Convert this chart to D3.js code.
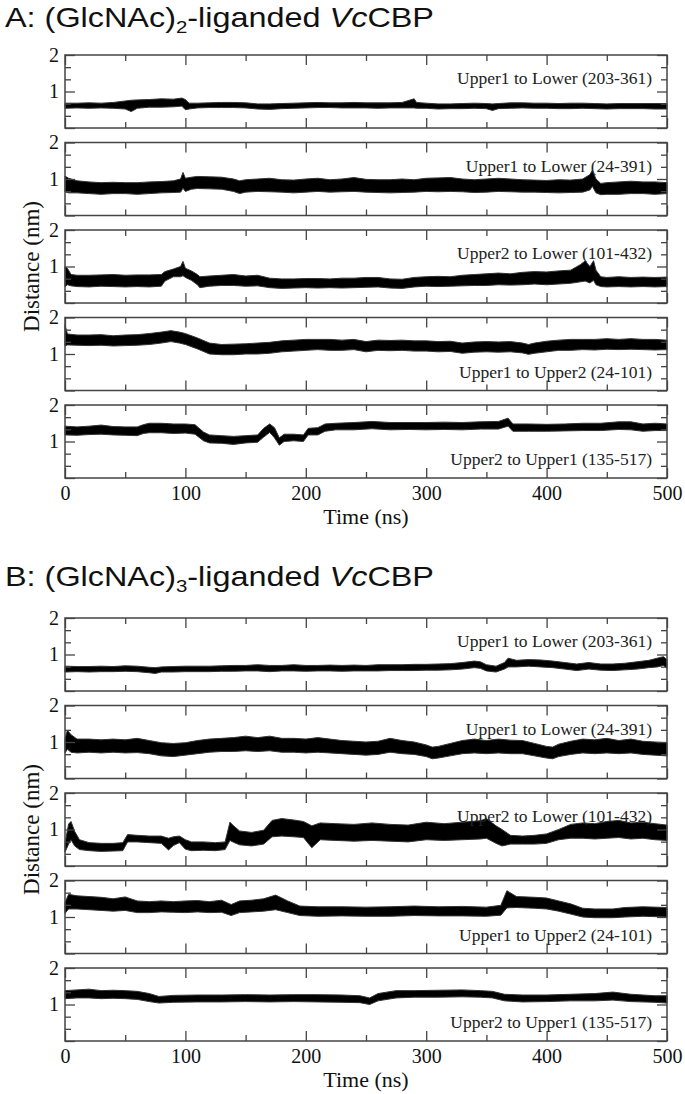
<!DOCTYPE html>
<html>
<head>
<meta charset="utf-8">
<script src="https://cdn.jsdelivr.net/npm/d3@7"></script>
<style>
  body { margin: 0; background: #fff; }
  svg { display: block; }
</style>
</head>
<body>
<svg width="685" height="1094"></svg>
<script>
// tick values / labels
var xTicks = [0, 100, 200, 300, 400, 500];
var xMinor = [50, 150, 250, 350, 450];
var yTicks = [0, 1, 2];
var yMinor = [1/3, 2/3, 4/3, 5/3];

var panelNames = ['Upper1 to Lower (203-361)', 'Upper1 to Lower (24-391)', 'Upper2 to Lower (101-432)',
                  'Upper1 to Upper2 (24-101)', 'Upper2 to Upper1 (135-517)'];

// each row: [time ns, lower edge nm, upper edge nm] of the trace band
var a1 = [[0,.54,.68],[10,.55,.68],[20,.54,.69],[30,.55,.68],[40,.54,.70],[50,.52,.74],[55,.45,.76],[60,.54,.77],[70,.57,.78],[80,.57,.80],[90,.58,.79],[97,.60,.82],[100,.50,.78],[103,.52,.68],[110,.55,.68],[120,.56,.69],[130,.56,.70],[140,.56,.70],[150,.55,.69],[160,.52,.66],[170,.51,.66],[180,.53,.67],[190,.54,.68],[200,.55,.69],[210,.56,.70],[220,.56,.69],[230,.55,.69],[240,.55,.70],[250,.55,.69],[260,.54,.69],[270,.55,.69],[280,.55,.70],[290,.55,.80],[292,.54,.70],[300,.54,.68],[310,.52,.66],[320,.53,.66],[330,.53,.67],[340,.54,.68],[350,.53,.67],[355,.48,.66],[360,.53,.67],[370,.54,.69],[380,.55,.69],[390,.54,.68],[400,.54,.68],[410,.53,.67],[420,.53,.68],[430,.54,.68],[440,.53,.67],[450,.52,.66],[460,.53,.67],[470,.53,.67],[480,.53,.67],[490,.52,.67],[500,.52,.67]];
var a2 = [[0,.65,1.08],[3,.62,1.02],[10,.62,.95],[20,.60,.92],[30,.58,.90],[40,.60,.91],[50,.60,.90],[60,.58,.90],[70,.60,.92],[80,.62,.93],[90,.63,.95],[96,.64,1.0],[98,.75,1.18],[100,.66,1.02],[105,.72,1.05],[110,.74,1.07],[120,.73,1.06],[130,.72,1.05],[140,.66,1.0],[145,.60,.95],[150,.64,.98],[160,.66,1.0],[170,.65,1.02],[180,.64,.98],[190,.62,.97],[200,.64,1.0],[210,.66,1.02],[220,.64,.98],[230,.65,1.0],[240,.66,1.04],[250,.64,.99],[260,.63,.98],[270,.62,.98],[280,.63,1.0],[290,.64,.98],[300,.66,1.02],[310,.65,1.03],[320,.66,1.04],[330,.65,1.0],[340,.63,.98],[350,.64,1.0],[360,.66,1.02],[370,.65,1.0],[380,.64,.98],[390,.64,.97],[400,.63,.96],[410,.62,.98],[420,.63,.97],[430,.64,1.0],[436,.7,1.12],[438,.8,1.24],[441,.62,1.0],[445,.57,.88],[450,.58,.9],[460,.58,.92],[470,.6,.94],[480,.6,.92],[490,.58,.92],[500,.6,.9]];
var a3 = [[0,.45,1.0],[2,.5,.95],[5,.47,.78],[10,.45,.76],[20,.44,.76],[30,.46,.77],[40,.45,.78],[50,.44,.76],[60,.45,.77],[70,.44,.77],[80,.46,.78],[83,.6,.86],[90,.72,.93],[96,.72,1.0],[98,.75,1.14],[100,.7,.95],[105,.62,.88],[110,.5,.78],[112,.42,.72],[120,.46,.74],[130,.48,.76],[140,.48,.78],[150,.46,.74],[160,.47,.76],[170,.42,.68],[180,.4,.66],[190,.41,.66],[200,.42,.67],[210,.41,.67],[220,.42,.66],[230,.41,.68],[240,.42,.68],[250,.43,.70],[260,.44,.70],[270,.41,.66],[280,.40,.65],[290,.44,.70],[300,.46,.72],[310,.45,.73],[320,.46,.72],[330,.47,.76],[340,.48,.78],[350,.48,.8],[360,.5,.82],[370,.49,.8],[380,.5,.84],[390,.52,.86],[400,.5,.85],[410,.52,.88],[420,.54,.9],[428,.58,1.05],[432,.6,1.15],[436,.55,1.0],[439,.62,1.16],[441,.5,.9],[445,.45,.72],[450,.44,.7],[460,.45,.72],[470,.44,.70],[480,.45,.71],[490,.44,.70],[500,.45,.71]];
var a4 = [[0,1.22,1.8],[2,1.25,1.55],[10,1.24,1.52],[20,1.23,1.52],[30,1.24,1.53],[40,1.22,1.5],[50,1.23,1.52],[60,1.24,1.53],[70,1.26,1.56],[80,1.3,1.6],[88,1.34,1.64],[95,1.3,1.6],[100,1.26,1.56],[110,1.14,1.44],[120,1.0,1.3],[130,.98,1.26],[140,.98,1.27],[150,1.0,1.28],[160,1.0,1.3],[170,1.02,1.32],[180,1.06,1.36],[190,1.08,1.38],[200,1.1,1.4],[210,1.12,1.4],[220,1.1,1.4],[230,1.1,1.38],[240,1.12,1.4],[250,1.06,1.34],[260,1.1,1.38],[270,1.09,1.37],[280,1.1,1.38],[290,1.08,1.36],[300,1.08,1.36],[310,1.06,1.34],[320,1.07,1.35],[330,1.02,1.3],[340,1.05,1.33],[350,1.06,1.34],[360,1.05,1.33],[370,1.06,1.34],[380,1.03,1.3],[385,.99,1.26],[390,1.02,1.3],[400,1.06,1.35],[410,1.1,1.38],[420,1.1,1.4],[430,1.12,1.4],[440,1.11,1.4],[450,1.13,1.42],[460,1.12,1.4],[470,1.13,1.42],[480,1.12,1.4],[490,1.11,1.4],[500,1.12,1.38]];
var a5 = [[0,1.18,1.42],[10,1.17,1.4],[20,1.19,1.42],[30,1.2,1.45],[40,1.18,1.41],[50,1.17,1.4],[60,1.16,1.4],[65,1.22,1.46],[70,1.24,1.5],[80,1.24,1.5],[90,1.22,1.48],[100,1.23,1.48],[108,1.2,1.46],[115,1.02,1.26],[120,.96,1.18],[130,.95,1.16],[140,.92,1.14],[150,.96,1.16],[160,.98,1.18],[165,1.12,1.36],[170,1.25,1.48],[174,1.1,1.38],[178,.9,1.1],[182,1.0,1.2],[190,1.02,1.2],[198,1.0,1.18],[202,1.18,1.36],[210,1.18,1.38],[216,1.28,1.48],[225,1.32,1.5],[240,1.32,1.52],[255,1.35,1.55],[270,1.32,1.52],[285,1.33,1.52],[300,1.32,1.52],[315,1.33,1.53],[330,1.32,1.52],[345,1.34,1.54],[360,1.34,1.55],[368,1.42,1.64],[372,1.28,1.48],[385,1.28,1.48],[400,1.28,1.47],[415,1.29,1.48],[430,1.3,1.5],[445,1.3,1.5],[460,1.33,1.54],[470,1.32,1.54],[480,1.28,1.48],[490,1.3,1.5],[500,1.3,1.48]];

var b1 = [[0,.52,.68],[10,.53,.67],[20,.52,.67],[30,.53,.68],[40,.53,.67],[50,.54,.69],[60,.53,.68],[70,.5,.65],[75,.48,.64],[80,.52,.66],[90,.52,.67],[100,.53,.68],[110,.53,.68],[120,.53,.68],[130,.54,.69],[140,.54,.7],[150,.55,.7],[160,.55,.72],[170,.53,.7],[180,.55,.7],[190,.55,.72],[200,.54,.7],[210,.55,.7],[220,.55,.71],[230,.54,.7],[240,.55,.71],[250,.55,.7],[260,.55,.72],[270,.56,.72],[280,.56,.72],[290,.56,.73],[300,.57,.73],[310,.57,.74],[320,.58,.75],[330,.6,.78],[340,.64,.82],[345,.62,.8],[350,.55,.72],[358,.52,.68],[365,.6,.78],[368,.66,.9],[375,.66,.84],[385,.68,.86],[395,.66,.85],[405,.64,.82],[415,.6,.78],[425,.56,.74],[435,.6,.78],[445,.57,.74],[455,.56,.74],[465,.58,.76],[475,.6,.8],[485,.64,.84],[492,.66,.9],[497,.7,.94],[500,.62,.86]];
var b2 = [[0,.7,1.1],[2,.8,1.32],[5,.72,1.2],[10,.7,1.08],[20,.72,1.08],[30,.7,1.06],[40,.72,1.08],[50,.7,1.06],[60,.71,1.1],[70,.68,1.04],[80,.62,.98],[90,.6,.96],[100,.64,.98],[110,.68,1.04],[120,.72,1.08],[130,.74,1.1],[140,.74,1.12],[150,.76,1.16],[160,.74,1.12],[170,.76,1.16],[180,.72,1.1],[190,.72,1.1],[200,.7,1.08],[210,.72,1.12],[220,.7,1.08],[230,.68,1.04],[240,.66,1.02],[250,.64,1.0],[260,.66,1.02],[270,.72,1.1],[280,.68,1.04],[290,.66,1.0],[300,.6,.92],[305,.54,.86],[310,.56,.88],[320,.62,.96],[330,.68,1.04],[340,.7,1.08],[350,.68,1.04],[360,.7,1.08],[370,.68,1.05],[380,.68,1.04],[390,.62,.96],[400,.56,.88],[405,.54,.86],[410,.6,.94],[420,.66,1.02],[430,.7,1.08],[440,.68,1.06],[450,.7,1.1],[460,.68,1.04],[470,.7,1.08],[480,.66,1.02],[490,.64,1.0],[500,.62,.98]];
var b3 = [[0,.38,.62],[3,.6,1.15],[5,.72,1.22],[8,.55,.95],[12,.45,.72],[20,.42,.64],[30,.4,.62],[40,.41,.62],[48,.42,.64],[52,.66,.86],[60,.66,.84],[70,.64,.82],[80,.62,.82],[86,.44,.76],[90,.56,.8],[95,.64,.82],[100,.46,.72],[105,.42,.66],[115,.43,.66],[125,.42,.64],[133,.45,.66],[137,.7,1.2],[140,.65,1.1],[145,.58,.96],[155,.55,.92],[165,.6,.98],[172,.8,1.25],[180,.82,1.3],[190,.8,1.26],[198,.78,1.22],[205,.5,1.1],[212,.72,1.18],[225,.7,1.16],[240,.68,1.14],[255,.7,1.18],[270,.68,1.14],[285,.66,1.12],[300,.72,1.2],[315,.7,1.16],[330,.72,1.2],[345,.74,1.24],[350,.76,1.3],[358,.62,1.1],[363,.55,1.0],[370,.6,.84],[380,.6,.82],[390,.6,.84],[400,.62,.88],[410,.72,1.0],[420,.76,1.14],[430,.76,1.18],[440,.74,1.16],[450,.76,1.22],[460,.78,1.25],[470,.74,1.18],[480,.76,1.2],[490,.72,1.16],[500,.7,1.12]];
var b4 = [[0,1.1,1.4],[3,1.22,1.62],[10,1.22,1.58],[20,1.2,1.56],[30,1.18,1.54],[40,1.16,1.5],[50,1.18,1.55],[60,1.12,1.44],[70,1.12,1.42],[80,1.14,1.44],[90,1.13,1.42],[100,1.12,1.44],[110,1.14,1.45],[120,1.12,1.42],[130,1.13,1.46],[138,1.04,1.34],[145,1.12,1.44],[155,1.14,1.46],[165,1.16,1.5],[175,1.2,1.6],[185,1.12,1.44],[195,1.04,1.3],[210,1.02,1.28],[230,1.03,1.28],[250,1.02,1.27],[270,1.02,1.28],[290,1.04,1.3],[310,1.03,1.28],[330,1.03,1.29],[350,1.02,1.27],[362,1.05,1.32],[367,1.25,1.72],[375,1.26,1.56],[390,1.24,1.54],[400,1.22,1.52],[410,1.16,1.44],[420,1.08,1.36],[430,1.0,1.24],[440,.98,1.22],[455,.98,1.22],[465,1.0,1.26],[480,1.02,1.28],[500,1.0,1.26]];
var b5 = [[0,1.16,1.38],[10,1.18,1.4],[20,1.18,1.42],[30,1.16,1.38],[40,1.17,1.39],[50,1.16,1.38],[60,1.14,1.36],[70,1.08,1.3],[78,1.04,1.22],[90,1.06,1.25],[110,1.07,1.26],[130,1.07,1.26],[150,1.08,1.27],[170,1.07,1.26],[190,1.08,1.27],[210,1.07,1.27],[230,1.06,1.26],[245,1.05,1.24],[253,1.0,1.18],[260,1.1,1.3],[275,1.18,1.38],[290,1.2,1.38],[310,1.2,1.39],[330,1.21,1.4],[345,1.2,1.38],[355,1.18,1.36],[365,1.1,1.28],[380,1.07,1.26],[400,1.08,1.26],[420,1.1,1.28],[440,1.1,1.3],[455,1.12,1.34],[470,1.08,1.28],[490,1.06,1.24],[500,1.04,1.24]];

var svg = d3.select('svg');
var left = 65, right = 667;
var panelH = 73, panelStep = 87.5;
var frameColor = '#444';
var serif = "'Liberation Serif', 'Times New Roman', serif";

var xScale = d3.scaleLinear().domain([0, 500]).range([left, right]);

function drawGroup(top, titleY, letter, sub, series) {
    var g = svg.append('g');

    // title (the source lettering is wider than plain Arial)
    var title = g.append('text')
        .attr('transform', 'translate(' + [5, titleY] + ')scale(1.2,1)')
        .style('font-family', "'Liberation Sans', Arial, sans-serif")
        .style('font-size', '27px')
        .attr('fill', '#111');
    title.append('tspan').text(letter + ': (GlcNAc)');
    title.append('tspan').attr('dy', 6).style('font-size', '17px').text(sub);
    title.append('tspan').attr('dy', -6).text('-liganded ');
    title.append('tspan').style('font-style', 'italic').text('Vc');
    title.append('tspan').text('CBP');

    series.forEach(function(data, i) {
        var py = top + i * panelStep;
        var yScale = d3.scaleLinear().domain([0, 2]).range([py + panelH, py]);
        var pg = g.append('g');

        var area = d3.area()
            .x(function(d) { return xScale(d[0]); })
            .y0(function(d) { return yScale(d[1]); })
            .y1(function(d) { return yScale(d[2]); });
        pg.append('path')
            .datum(data)
            .attr('d', area)
            .attr('fill', '#000')
            .attr('stroke', '#333')
            .attr('stroke-width', 1)
            .attr('stroke-linejoin', 'round');

        // ticks, all pointing inwards
        var axes = [
            {ax: d3.axisLeft(yScale).tickValues(yTicks).tickSize(-10).tickPadding(6)
                .tickFormat(function(d) { return d === 0 ? '' : d; }), t: [left, 0]},
            {ax: d3.axisLeft(yScale).tickValues(yMinor).tickSize(-6).tickFormat(''), t: [left, 0]},
            {ax: d3.axisRight(yScale).tickValues(yTicks).tickSize(-10).tickFormat(''), t: [right, 0]},
            {ax: d3.axisRight(yScale).tickValues(yMinor).tickSize(-6).tickFormat(''), t: [right, 0]},
            {ax: d3.axisTop(xScale).tickValues(xTicks).tickSize(-10).tickFormat(''), t: [0, py]},
            {ax: d3.axisTop(xScale).tickValues(xMinor).tickSize(-6).tickFormat(''), t: [0, py]},
            {ax: d3.axisBottom(xScale).tickValues(xTicks).tickSize(-10).tickPadding(8)
                .tickFormat(i === 4 ? function(d) { return d; } : ''), t: [0, py + panelH]},
            {ax: d3.axisBottom(xScale).tickValues(xMinor).tickSize(-6).tickFormat(''), t: [0, py + panelH]}
        ];
        axes.forEach(function(a) {
            var ag = pg.append('g')
                .attr('transform', 'translate(' + a.t + ')')
                .call(a.ax);
            ag.select('.domain').remove();
            ag.selectAll('line').attr('stroke', frameColor).attr('stroke-width', 1.3);
            ag.selectAll('text')
                .style('font-family', serif)
                .style('font-size', '20px')
                .attr('fill', '#111');
        });

        pg.append('rect')
            .attr('x', left).attr('y', py)
            .attr('width', right - left).attr('height', panelH)
            .attr('fill', 'none')
            .attr('stroke', frameColor)
            .attr('stroke-width', 1.5);

        var atTop = i < 3;
        pg.append('text')
            .attr('x', right - 15)
            .attr('y', atTop ? py + 29 : py + panelH - 13)
            .attr('text-anchor', 'end')
            .style('font-family', serif)
            .style('font-size', '17.5px')
            .attr('fill', '#222')
            .text(panelNames[i]);
    });

    var bottom = top + 4 * panelStep + panelH;
    g.append('text')
        .attr('x', (left + right) / 2)
        .attr('y', bottom + 46)
        .attr('text-anchor', 'middle')
        .style('font-family', serif)
        .style('font-size', '22px')
        .attr('fill', '#111')
        .text('Time (ns)');

    g.append('text')
        .attr('transform', 'translate(' + [39, (top + bottom) / 2] + ')rotate(-90)')
        .attr('text-anchor', 'middle')
        .style('font-family', serif)
        .style('font-size', '23px')
        .attr('fill', '#111')
        .text('Distance (nm)');
}

drawGroup(55, 27, 'A', '2', [a1, a2, a3, a4, a5]);
drawGroup(618, 586, 'B', '3', [b1, b2, b3, b4, b5]);
</script>
</body>
</html>
